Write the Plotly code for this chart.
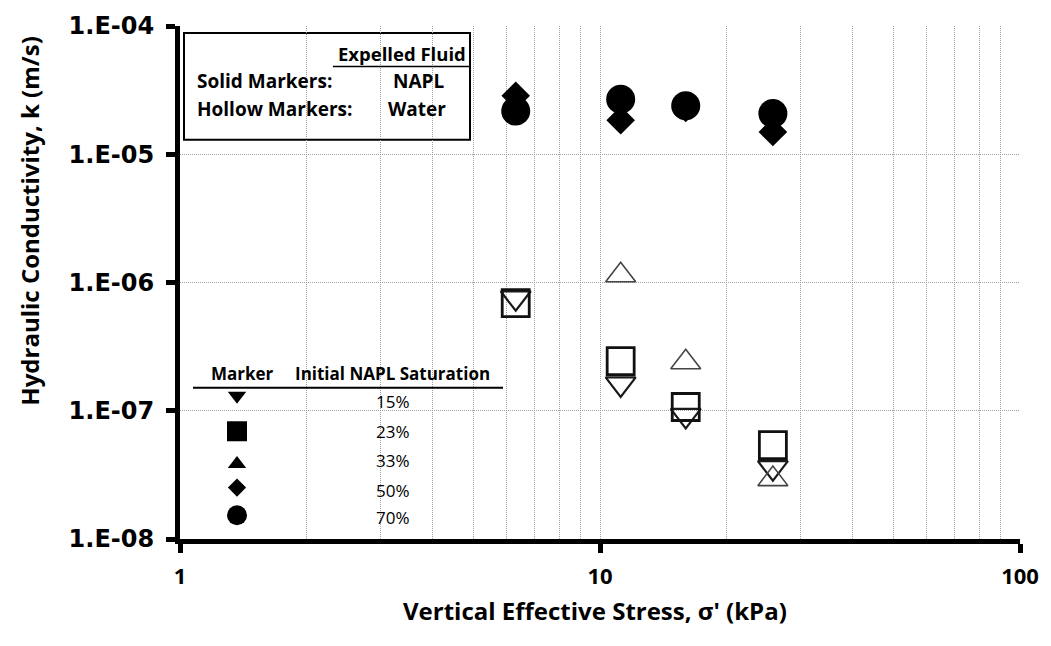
import plotly.graph_objects as go

# ---- data ----
stress = [6.3, 11.2, 16.0, 25.8]           # vertical effective stress, kPa

# NAPL expelled (solid markers)
k_napl_50 = [2.86e-5, 1.84e-5, 2.30e-5, 1.49e-5]   # diamond, 50 %
k_napl_70 = [2.17e-5, 2.69e-5, 2.39e-5, 2.08e-5]   # circle, 70 %

# Water expelled (hollow markers)
k_water_15 = [7.6e-7, 1.62e-7, 9.2e-8, 3.6e-8]      # triangle-down, 15 %
k_water_23 = [6.9e-7, 2.44e-7, 1.07e-7, 5.4e-8]     # square, 23 %
k_water_33 = [None, 1.14e-6, 2.39e-7, 2.93e-8]      # triangle-up, 33 %

x_tickvals = [1, 10, 100]
x_ticktext = ["1", "10", "100"]
y_tickvals = [1e-8, 1e-7, 1e-6, 1e-5, 1e-4]
y_ticktext = ["1.E-08", "1.E-07", "1.E-06", "1.E-05", "1.E-04"]
x_minor = [2, 3, 4, 5, 6, 7, 8, 9, 20, 30, 40, 50, 60, 70, 80, 90]

legend_symbols = ["triangle-down", "square", "triangle-up", "diamond", "circle"]
legend_labels = ["15%", "23%", "33%", "50%", "70%"]

# ---- layout helpers (pixel -> paper) ----
PL, PR, PT, PB = 180, 1020, 20, 539
XR = [0, 2]      # log10 range of x
YR = [-8, -4]    # log10 range of y
def xp(px):
    return (px - PL) / (PR - PL)
def yp(py):
    return (PB - py) / (PB - PT)
def xdata(px):   # pixel -> data value through the axis scale
    return 10 ** (XR[0] + xp(px) * (XR[1] - XR[0]))
def ydata(py):
    return 10 ** (YR[0] + yp(py) * (YR[1] - YR[0]))

fig = go.Figure()

# hollow markers
fig.add_trace(go.Scatter(x=stress, y=k_water_15, mode="markers",
    marker=dict(symbol="triangle-down-open", size=26, color="#1a1a1a",
                line=dict(width=2.2, color="#1a1a1a"))))
fig.add_trace(go.Scatter(x=stress, y=k_water_23, mode="markers",
    marker=dict(symbol="square-open", size=27, color="#111111",
                line=dict(width=2.8, color="#111111"))))
fig.add_trace(go.Scatter(x=stress, y=k_water_33, mode="markers",
    marker=dict(symbol="triangle-up-open", size=26, color="#444444",
                line=dict(width=1.6, color="#444444"))))
# solid markers
fig.add_trace(go.Scatter(x=stress, y=k_napl_50, mode="markers",
    marker=dict(symbol="diamond", size=22, color="black", line=dict(width=0))))
fig.add_trace(go.Scatter(x=stress, y=k_napl_70, mode="markers",
    marker=dict(symbol="circle", size=29, color="black", line=dict(width=0))))

# legend-table key markers (placed inside the white table box)
leg_x = [xdata(237)] * 5
leg_y = [ydata(394), ydata(430), ydata(463), ydata(487), ydata(515)]
leg_sizes = [16, 20, 16, 14, 20]
fig.add_trace(go.Scatter(x=leg_x, y=leg_y, mode="markers",
    marker=dict(symbol=legend_symbols, size=leg_sizes, color="black",
                opacity=1, line=dict(width=0))))

grid_col = "#a0a0a0"
grid_dash = "1px,1px"
label_font = "Open Sans, Lato, sans-serif"

fig.update_layout(
    width=1051, height=646,
    margin=dict(l=PL, r=1051 - PR, t=PT, b=646 - PB),
    paper_bgcolor="white", plot_bgcolor="white",
    showlegend=False,
    xaxis=dict(type="log", range=XR,
               tickmode="array", tickvals=x_tickvals, ticktext=x_ticktext,
               showline=True, linecolor="black", linewidth=5, mirror=False,
               ticks="outside", ticklen=9, tickwidth=5, tickcolor="black",
               ticklabelstandoff=5,
               tickfont=dict(family=label_font, size=22, color="black", weight="bold"),
               showgrid=True, gridcolor=grid_col, griddash=grid_dash, gridwidth=1,
               minor=dict(tickvals=x_minor, showgrid=True, gridcolor=grid_col,
                          griddash=grid_dash, gridwidth=1, ticks=""),
               zeroline=False),
    yaxis=dict(type="log", range=YR,
               tickmode="array", tickvals=y_tickvals, ticktext=y_ticktext,
               showline=True, linecolor="black", linewidth=5, mirror=False,
               ticks="outside", ticklen=9, tickwidth=5, tickcolor="black",
               ticklabelstandoff=7,
               tickfont=dict(family="DejaVu Sans", size=24, color="black", weight="bold"),
               showgrid=True, gridcolor=grid_col, griddash=grid_dash, gridwidth=1,
               zeroline=False),
)

shapes = [
    # top box (expelled fluid)
    dict(type="rect", xref="paper", yref="paper",
         x0=xp(184), x1=xp(470), y0=yp(135), y1=yp(27),
         fillcolor="white", line=dict(color="black", width=2), layer="between"),
    dict(type="line", xref="paper", yref="paper",
         x0=xp(333), x1=xp(470), y0=yp(61), y1=yp(61),
         line=dict(color="black", width=1.5)),
    # bottom box (marker table), no border
    dict(type="rect", xref="paper", yref="paper",
         x0=xp(183), x1=xp(505), y0=yp(532), y1=yp(357),
         fillcolor="white", line=dict(width=0), layer="between"),
    dict(type="line", xref="paper", yref="paper",
         x0=xp(193), x1=xp(503), y0=yp(386), y1=yp(386),
         line=dict(color="black", width=2)),
]
fig.update_layout(shapes=shapes)

ann = []
def add_text(text, x, y, size, bold=True, xanchor="center", family=label_font, angle=0):
    ann.append(dict(text=text, x=x, y=y, xref="paper", yref="paper",
                    xanchor=xanchor, yanchor="middle", showarrow=False,
                    textangle=angle,
                    font=dict(family=family, size=size, color="black",
                              weight="bold" if bold else "normal")))

add_text("Expelled Fluid", xp(468), yp(48), 18.5, xanchor="right")
add_text("Solid Markers:", xp(195), yp(76), 19, xanchor="left")
add_text("NAPL", xp(418), yp(76), 19)
add_text("Hollow Markers:", xp(195), yp(104), 19, xanchor="left")
add_text("Water", xp(417), yp(104), 19)

add_text("Marker", xp(242.5), yp(372), 17)
add_text("Initial NAPL Saturation", xp(392), yp(372), 17)
for lab, py in zip(legend_labels, [400, 430, 460, 490, 517]):
    add_text(lab, xp(393), yp(py), 17, bold=False)

add_text("Vertical Effective Stress, σ' (kPa)", xp(595), yp(611), 24)
add_text("Hydraulic Conductivity, k (m/s)", xp(30), yp(218), 24, angle=-90)

fig.update_layout(annotations=ann)

fig.write_html("out.html", post_script="document.body.style.margin='0';",
               config={"displayModeBar": False})
